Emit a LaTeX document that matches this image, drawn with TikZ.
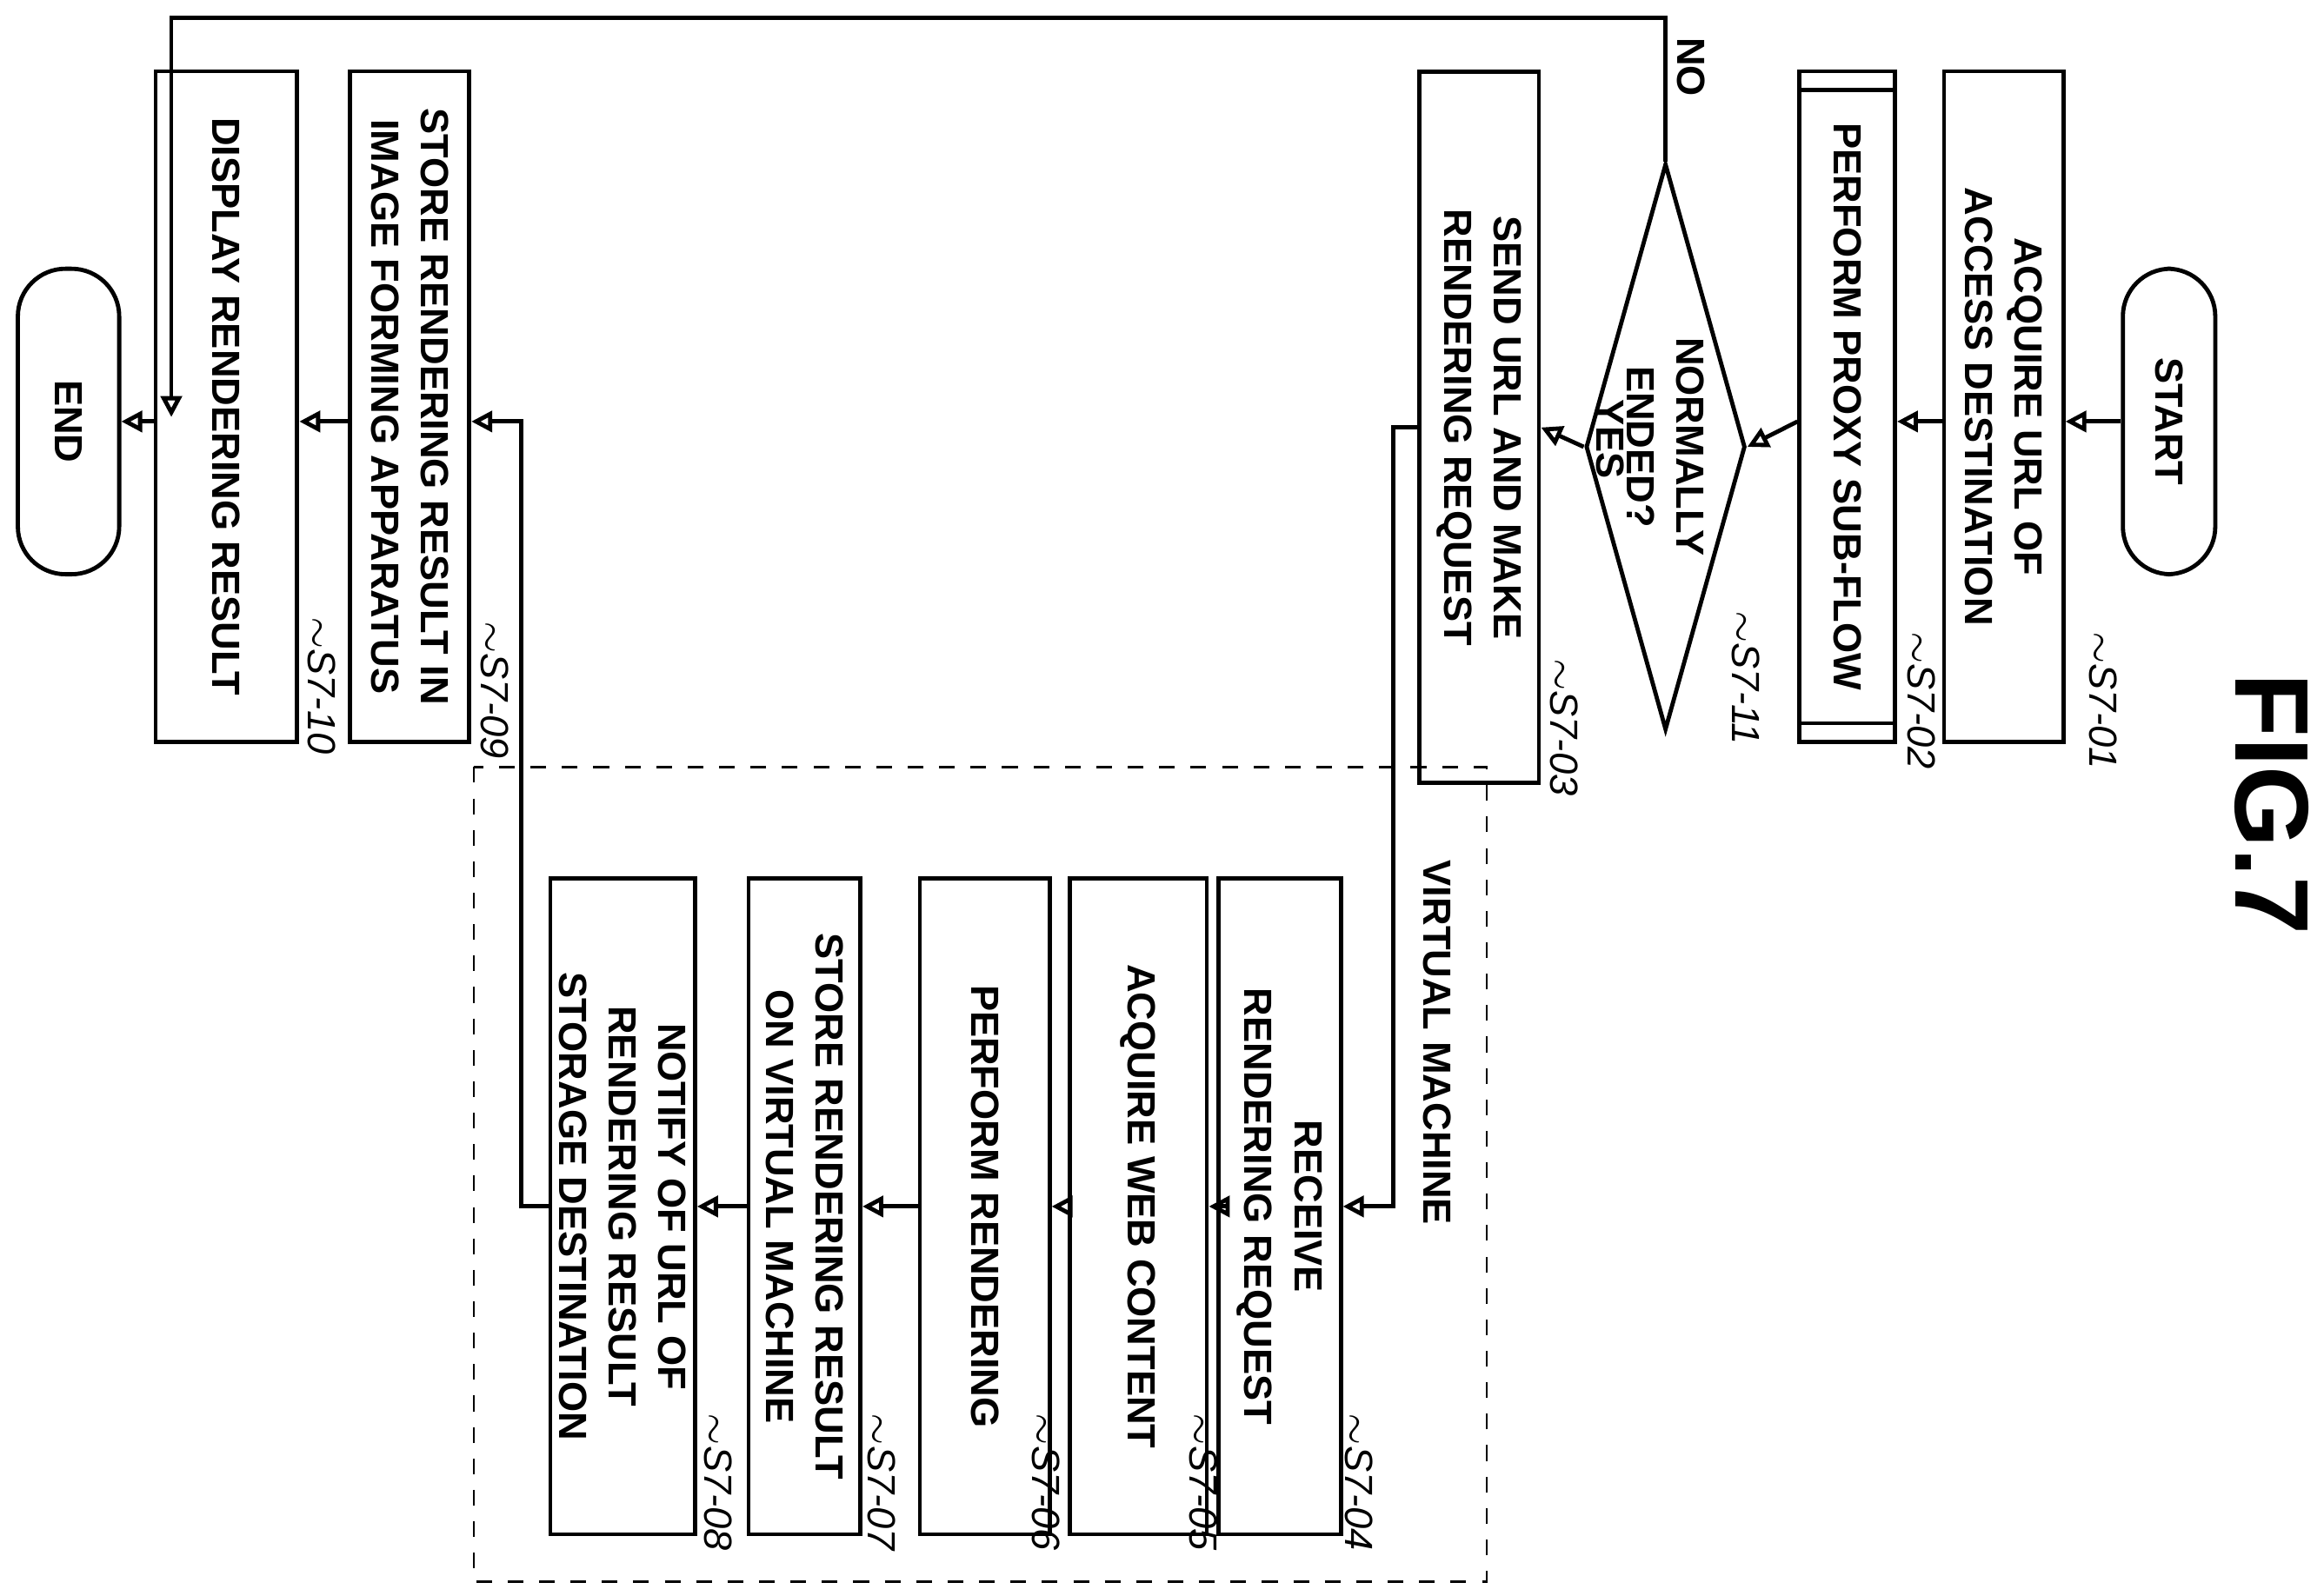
\documentclass[tikz,border=0pt]{standalone}
\usepackage{fontspec}
\setmainfont{Liberation Sans}
\usetikzlibrary{calc,shapes.geometric,arrows.meta}

\tikzset{
  box/.style={draw,rotate=-90,thick,align=center,inner sep=1pt,
    font=\bfseries\fontsize{7.5}{9.5}\selectfont},
  term/.style={box,rounded corners=3.2mm},
  steplbl/.style={rotate=-90,font=\itshape\fontsize{7.5}{9}\selectfont,inner sep=0pt},
  flow/.style={thick,-{Triangle[open,length=1.4mm,width=1.4mm]}}
}

\begin{document}
\begin{tikzpicture}[x=0.01cm,y=-0.01cm]
  \useasboundingbox (0,0) rectangle (1560,1071);

  % main column
  \node[term,minimum width=2.05cm,minimum height=0.62cm] (start) at (1456,283) {START};
  \node[box,minimum width=4.5cm,minimum height=0.8cm] (s701) at (1345,273) {ACQUIRE URL OF\\ACCESS DESTINATION};
  \node[box,minimum width=4.5cm,minimum height=0.64cm] (s702) at (1240,273) {PERFORM PROXY SUB-FLOW};
  \draw[thick] ($(s702.north west)+(0,14)$) -- ($(s702.south west)+(0,14)$);
  \draw[thick] ($(s702.north east)+(0,-14)$) -- ($(s702.south east)+(0,-14)$);
  \node[box,diamond,aspect=3.55,minimum width=3.8cm,minimum height=1.07cm,inner sep=0pt] (dia) at (1118,300) {NORMALLY\\ENDED?};
  \node[box,minimum width=4.77cm,minimum height=0.8cm] (s703) at (993,287) {SEND URL AND MAKE\\RENDERING REQUEST};
  \node[box,minimum width=4.5cm,minimum height=0.8cm] (s709) at (275,273) {STORE RENDERING RESULT IN\\IMAGE FORMING APPARATUS};
  \node[box,minimum width=4.5cm,minimum height=0.95cm] (s710) at (152,273) {DISPLAY RENDERING RESULT};
  \node[term,minimum width=2.05cm,minimum height=0.68cm] (end) at (46,283) {END};

  % virtual machine
  \draw[dashed] (318,515) rectangle (998,1062);
  \node[rotate=-90,font=\bfseries\fontsize{7.5}{9}\selectfont] (vmlbl) at (965,700) {VIRTUAL MACHINE};
  \node[box,minimum width=4.4cm,minimum height=0.82cm] (s704) at (859,810) {RECEIVE\\RENDERING REQUEST};
  \node[box,minimum width=4.4cm,minimum height=0.92cm] (s705) at (764,810) {ACQUIRE WEB CONTENT};
  \node[box,minimum width=4.4cm,minimum height=0.87cm] (s706) at (661,810) {PERFORM RENDERING};
  \node[box,minimum width=4.4cm,minimum height=0.75cm] (s707) at (540,810) {STORE RENDERING RESULT\\ON VIRTUAL MACHINE};
  \node[box,minimum width=4.4cm,minimum height=0.97cm] (s708) at (418,810) {NOTIFY OF URL OF\\RENDERING RESULT\\STORAGE DESTINATION};

  % step labels
  \node[steplbl] (l701) at (1412,470) {$\sim$S7-01};
  \node[steplbl] (l702) at (1290,470) {$\sim$S7-02};
  \node[steplbl] (l711) at (1172,455) {$\sim$S7-11};
  \node[steplbl] (l703) at (1050,488) {$\sim$S7-03};
  \node[steplbl] (l709) at (332,463) {$\sim$S7-09};
  \node[steplbl] (l710) at (216,460) {$\sim$S7-10};
  \node[steplbl] (l704) at (912,995) {$\sim$S7-04};
  \node[steplbl] (l705) at (808,995) {$\sim$S7-05};
  \node[steplbl] (l706) at (702,995) {$\sim$S7-06};
  \node[steplbl] (l707) at (592,995) {$\sim$S7-07};
  \node[steplbl] (l708) at (482,995) {$\sim$S7-08};

  \node[rotate=-90,font=\bfseries\fontsize{20}{22}\selectfont] (fig) at (1525,540) {FIG.7};

  % connectors
  \draw[flow] (start) -- (start -| s701.north);
  \draw[flow] (start -| s701.south) -- (start -| s702.north);
  \draw[flow] (start -| s702.south) -- (dia.north);
  \draw[flow] (dia.south) -- node[rotate=-90,above=2pt,pos=0.4,font=\bfseries\fontsize{7.5}{9}\selectfont] (yes) {YES} (s703.north);
  \coordinate (noTop) at (1118,12);
  \coordinate (noLeft) at (115,12);
  \coordinate (noEnd) at (115,280);
  \draw[flow] (dia.west) -- (noTop) -- (noLeft) -- (noEnd);
  \node[rotate=-90,font=\bfseries\fontsize{7.5}{9}\selectfont] (no) at (1135,45) {NO};
  \coordinate (vmIn) at (935,810);
  \draw[flow] (s703.south) -| (vmIn) -- (s704.north);
  \draw[flow] (s704) -- (s705);
  \draw[flow] (s705) -- (s706);
  \draw[flow] (s706) -- (s707);
  \draw[flow] (s707) -- (s708);
  \coordinate (vmOut) at (350,810);
  \draw[flow] (s708.south) -- (vmOut) |- (s709.north |- end);
  \draw[flow] (s709.south |- end) -- (s710.north |- end);
  \draw[flow] (s710.south |- end) -- (end);
\end{tikzpicture}
\end{document}
